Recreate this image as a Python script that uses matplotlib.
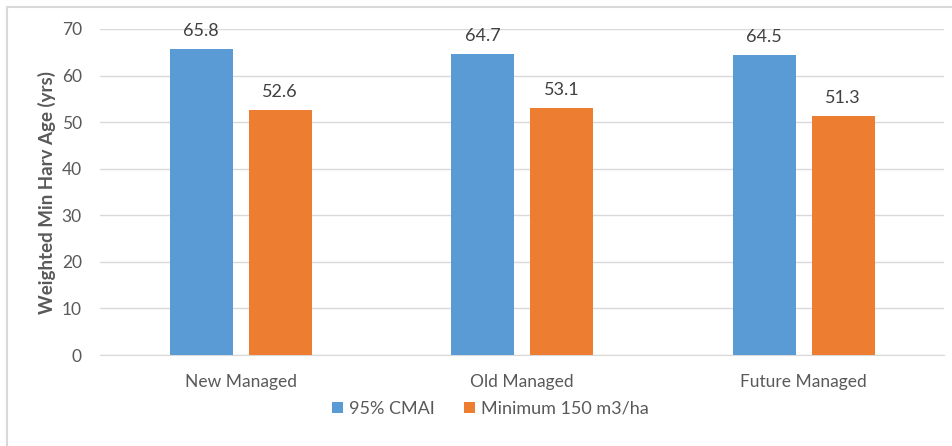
import numpy as np
import matplotlib
matplotlib.use("Agg")
import matplotlib.pyplot as plt
from matplotlib.patches import Rectangle

plt.rcParams['font.family'] = ['Lato', 'DejaVu Sans']

categories = ['New Managed', 'Old Managed', 'Future Managed']
cmai_95 = [65.8, 64.7, 64.5]
min_150 = [52.6, 53.1, 51.3]
series_names = ['95% CMAI', 'Minimum 150 m3/ha']

blue = '#5B9BD5'
orange = '#ED7D31'
grid_col = '#D9D9D9'
txt_col = '#595959'

fig = plt.figure(figsize=(9.52, 4.46), dpi=100)
ax = fig.add_axes([0.105, 0.204, 0.887, 0.731])

x = np.arange(len(categories))
w = 0.224
off = 0.14
b1 = ax.bar(x - off, cmai_95, w, color=blue, label=series_names[0], zorder=3)
b2 = ax.bar(x + off, min_150, w, color=orange, label=series_names[1], zorder=3)

for bars in (b1, b2):
    for r in bars:
        ax.annotate(f'{r.get_height():.1f}', (r.get_x() + r.get_width() / 2, r.get_height()),
                    xytext=(0, 7), textcoords='offset points', ha='center', va='bottom',
                    fontsize=13, color='#404040')

ax.set_xlim(-0.5, 2.5)
ax.set_ylim(0, 70)
ax.set_yticks(range(0, 71, 10))
ax.set_xticks(x)
ax.set_xticklabels(categories)
ax.yaxis.grid(True, color=grid_col, lw=1, zorder=0)
for s in ('top', 'right', 'left'):
    ax.spines[s].set_visible(False)
ax.spines['bottom'].set_color(grid_col)
ax.tick_params(axis='both', length=0, colors=txt_col, labelsize=12.5)
ax.tick_params(axis='x', pad=14)
ax.tick_params(axis='y', pad=13)
ax.set_ylabel('Weighted Min Harv Age (yrs)', fontsize=13.5, fontweight='bold', color=txt_col, labelpad=4)

# legend sits a bit right of centre in the original
leg = fig.legend(loc='center', bbox_to_anchor=(0.515, 0.083), ncol=2, frameon=False,
                 fontsize=13, handlelength=0.6, handleheight=0.6, handletextpad=0.35,
                 columnspacing=1.6, labelcolor=txt_col)

fig.patches.append(Rectangle((7 / 952, -0.1), 1.2, 1.1 - 7 / 446, transform=fig.transFigure,
                             fill=False, edgecolor=grid_col, lw=1.5))

fig.savefig('out.png', dpi=100)
